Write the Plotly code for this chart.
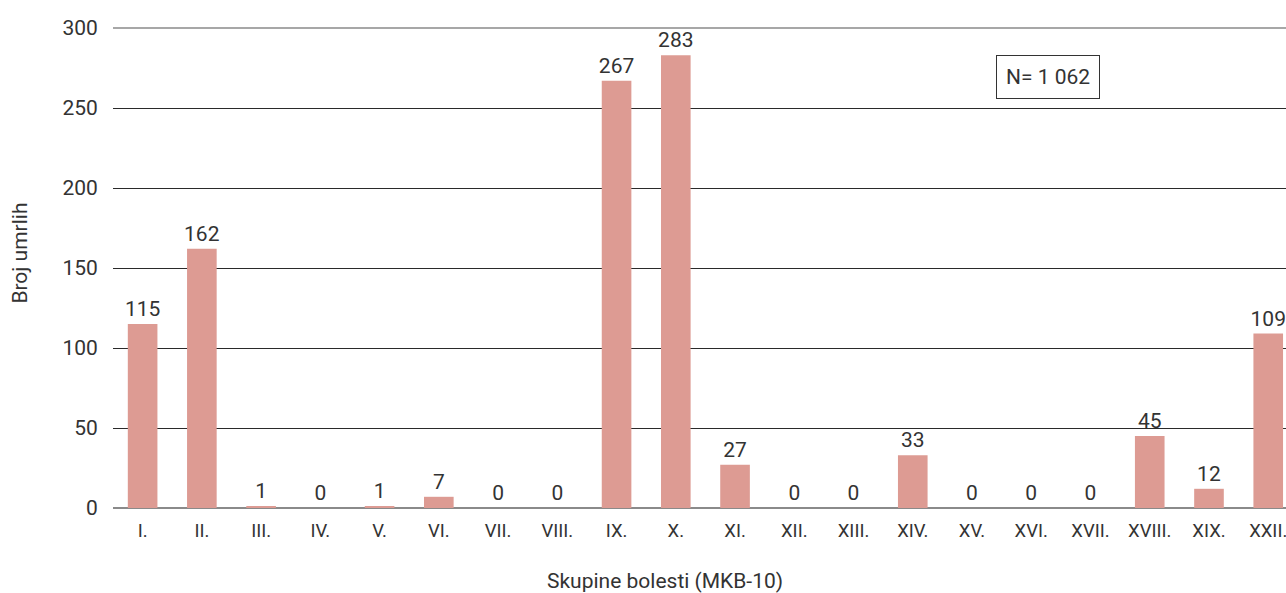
import plotly.graph_objects as go

categories = ["I.", "II.", "III.", "IV.", "V.", "VI.", "VII.", "VIII.", "IX.", "X.",
              "XI.", "XII.", "XIII.", "XIV.", "XV.", "XVI.", "XVII.", "XVIII.", "XIX.", "XXII."]
values = [115, 162, 1, 0, 1, 7, 0, 0, 267, 283, 27, 0, 0, 33, 0, 0, 0, 45, 12, 109]
y_ticks = [0, 50, 100, 150, 200, 250, 300]

FONT = "Roboto"
TXT = "#333333"

fig = go.Figure(go.Bar(
    x=categories, y=values,
    marker=dict(color="#dd9b93", line=dict(width=0)),
    width=0.5,
    text=[str(v) for v in values],
    textposition="outside",
    constraintext="none",
    textfont=dict(family=FONT, size=21, color=TXT),
    cliponaxis=False,
))

fig.update_layout(
    template="none",
    width=1286, height=593,
    margin=dict(l=113, r=0, t=28, b=85, autoexpand=False),
    paper_bgcolor="white", plot_bgcolor="white",
    showlegend=False,
    font=dict(family=FONT, color=TXT),
    xaxis=dict(
        type="category",
        range=[-0.5, 19.3],
        automargin=False,
        showgrid=False, showline=False, zeroline=False,
        tickfont=dict(family=FONT, size=18.5, color=TXT),
        ticks="outside", ticklen=6, tickcolor="rgba(0,0,0,0)",
    ),
    yaxis=dict(
        range=[0, 300],
        tickvals=y_ticks,
        automargin=False,
        showgrid=True, gridcolor="#2a2a2a", gridwidth=1,
        zeroline=True, zerolinecolor="#8a8a8a", zerolinewidth=2,
        showline=False,
        tickfont=dict(family=FONT, size=21, color=TXT),
        ticks="outside", ticklen=10, tickcolor="rgba(0,0,0,0)",
    ),
    shapes=[dict(type="line", xref="paper", yref="paper", x0=0, x1=1, y0=1, y1=1,
                 line=dict(color="#8a8a8a", width=1.5))],
    annotations=[
        dict(text="N= 1 062", xref="paper", yref="paper", x=0.797, y=0.897,
             xanchor="center", yanchor="middle",
             showarrow=False, font=dict(family=FONT, size=21, color=TXT),
             bordercolor="#333333", borderwidth=1, borderpad=9, bgcolor="white"),
        dict(text="Skupine bolesti (MKB-10)", xref="paper", yref="paper",
             x=0.4706, y=-0.152, xanchor="center", yanchor="middle",
             showarrow=False, font=dict(family=FONT, size=21, color=TXT)),
        dict(text="Broj umrlih", xref="paper", yref="paper",
             x=-0.0793, y=0.532, xanchor="center", yanchor="middle", textangle=-90,
             showarrow=False, font=dict(family=FONT, size=21, color=TXT)),
    ],
)

fig.write_html(
    "out.html",
    config={"displayModeBar": False},
    post_script="document.body.style.margin='0';document.documentElement.style.overflow='hidden';document.body.style.overflow='hidden';",
)
